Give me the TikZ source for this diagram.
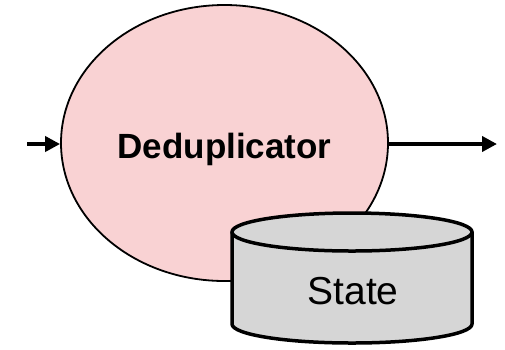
\documentclass[tikz,border=0pt]{standalone}
\usepackage{fontspec}
\setmainfont{Liberation Sans}
\usetikzlibrary{shapes.geometric,arrows.meta}
\definecolor{procpink}{HTML}{F9D2D3}
\definecolor{storegray}{HTML}{D6D6D6}
\tikzset{
  flow/.style={line width=4.5pt,-{Triangle[length=15pt,width=15pt]}},
  proc/.style={ellipse,draw=black,line width=1.8pt,fill=procpink,inner sep=0pt},
  store/.style={draw=black,line width=3.5pt,fill=storegray,line join=round},
}
\begin{document}
\begin{tikzpicture}[x=1pt,y=-1pt]
\useasboundingbox (0,0) rectangle (505,349);
% process bubble
\node[proc,minimum width=327pt,minimum height=276pt] (dedup) at (224.5,143) {};
\node[anchor=base,inner sep=0pt,font=\bfseries\fontsize{35}{40}\selectfont] (deduplabel) at (224.5,158) {Deduplicator};
% input and output streams
\coordinate (in) at (27,144);
\coordinate (out) at (497,144);
\draw[flow] (in) -- (dedup.west |- in);
\draw[flow] (dedup.east |- out) -- (out);
% state store drawn as a cylinder (y axis points down here)
\path[store] (232,232) -- (232,324) arc[start angle=180,end angle=0,x radius=120,y radius=19]
  -- (472,232) -- cycle;
\path[store] (352,232) ellipse[x radius=120,y radius=19];
\node[anchor=base,inner sep=0pt,font=\fontsize{39}{44}\selectfont] (statelabel) at (353,304) {State};
\end{tikzpicture}
\end{document}
